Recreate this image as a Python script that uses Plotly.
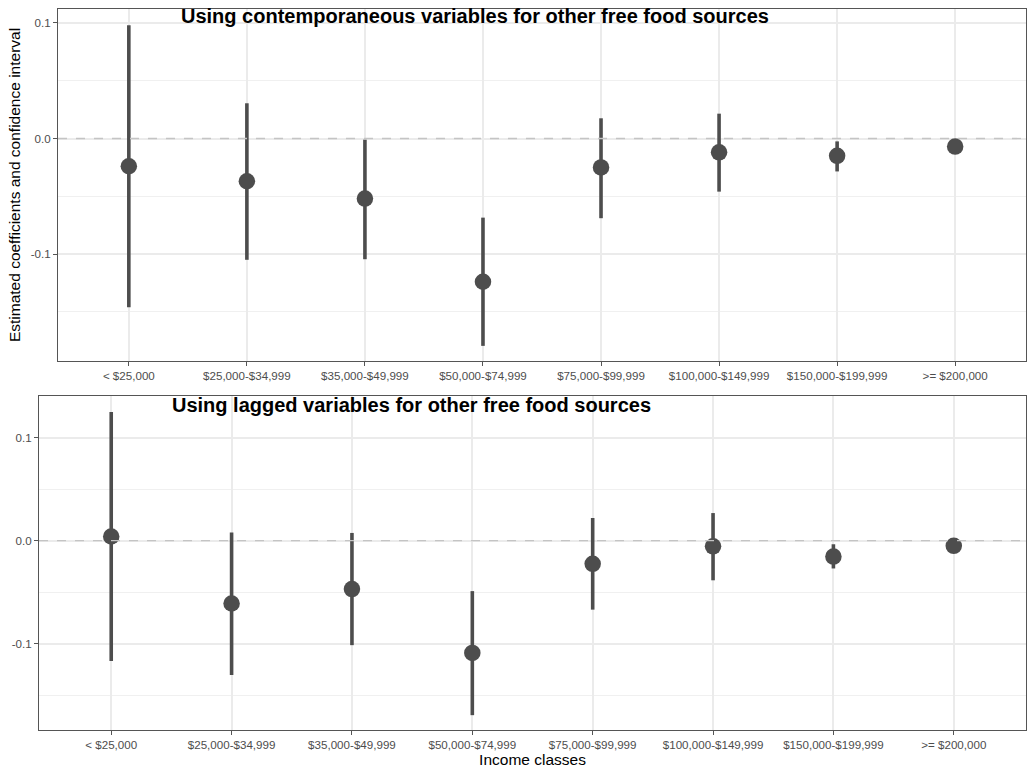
import plotly.graph_objects as go

# Income classes on the x axis
categories = ["< $25,000", "$25,000-$34,999", "$35,000-$49,999", "$50,000-$74,999",
              "$75,000-$99,999", "$100,000-$149,999", "$150,000-$199,999", ">= $200,000"]

# Contemporaneous model: estimate, lower and upper confidence bounds
contemp_est = [-0.024, -0.037, -0.052, -0.124, -0.025, -0.012, -0.015, -0.007]
contemp_lo = [-0.146, -0.105, -0.1045, -0.1795, -0.069, -0.046, -0.0285, -0.0115]
contemp_hi = [0.098, 0.0305, -0.001, -0.0685, 0.0175, 0.0215, -0.0025, -0.0025]

# Lagged model: estimate, lower and upper confidence bounds
lagged_est = [0.004, -0.061, -0.047, -0.109, -0.0225, -0.0055, -0.0155, -0.005]
lagged_lo = [-0.117, -0.1305, -0.1015, -0.1695, -0.067, -0.0385, -0.027, -0.009]
lagged_hi = [0.125, 0.008, 0.0075, -0.049, 0.022, 0.0268, -0.0035, -0.001]

y_ticks = [-0.1, 0.0, 0.1]
y_tick_text = ["-0.1", "0.0", "0.1"]

W, H = 1027, 769
DARK = "#4D4D4D"
GRID = "#EBEBEB"
FONT = "Liberation Sans, Arial, sans-serif"


def px_x(p):
    return p / W


def px_y(p):
    return 1 - p / H


fig = go.Figure()


def add_panel(est, lo, hi, xa, ya):
    plus = [h - e for h, e in zip(hi, est)]
    minus = [e - l for e, l in zip(est, lo)]
    fig.add_trace(go.Scatter(
        x=categories, y=est, mode="markers",
        marker=dict(size=16.5, color=DARK),
        error_y=dict(type="data", symmetric=False, array=plus, arrayminus=minus,
                     thickness=3.6, width=0, color=DARK),
        xaxis=xa, yaxis=ya, showlegend=False, cliponaxis=False,
    ))


add_panel(contemp_est, contemp_lo, contemp_hi, "x", "y")
add_panel(lagged_est, lagged_lo, lagged_hi, "x2", "y2")

xcommon = dict(
    type="category", categoryorder="array", categoryarray=categories,
    range=[-0.6, 7.6], showgrid=True, gridcolor=GRID, gridwidth=1.5,
    showline=True, mirror=True, linecolor="#555555", linewidth=1,
    ticks="outside", ticklen=4, tickcolor="#555555", tickwidth=1,
    tickfont=dict(family=FONT, size=11.6, color=DARK), zeroline=False,
)
ycommon = dict(
    tickvals=y_ticks, ticktext=y_tick_text, showgrid=True, gridcolor=GRID, gridwidth=1.5,
    minor=dict(dtick=0.05, tick0=0, showgrid=True, gridcolor="#F0F0F0", gridwidth=0.8),
    showline=True, mirror=True, linecolor="#555555", linewidth=1,
    ticks="outside", ticklen=4, tickcolor="#555555", tickwidth=1,
    tickfont=dict(family=FONT, size=11.6, color=DARK), zeroline=False,
)

fig.update_layout(
    width=W, height=H, margin=dict(l=0, r=0, t=0, b=0),
    paper_bgcolor="white", plot_bgcolor="white",
    font=dict(family=FONT, color="black"),
    xaxis=dict(xcommon, domain=[px_x(58), px_x(1026)], anchor="y"),
    yaxis=dict(ycommon, domain=[px_y(361), px_y(9)], anchor="x",
               range=[-0.1926, 0.1121],
               title=dict(text="Estimated coefficients and confidence interval",
                          font=dict(family=FONT, size=15.5, color="black"), standoff=6)),
    xaxis2=dict(xcommon, domain=[px_x(39), px_x(1026)], anchor="y2",
                title=dict(text="Income classes", font=dict(family=FONT, size=15.5, color="black"),
                           standoff=0)),
    yaxis2=dict(ycommon, domain=[px_y(730), px_y(396)], anchor="x2",
                range=[-0.1839, 0.1405]),
)

# Dashed reference line at zero in both panels, drawn on top of the marks
for xref, yref in [("x domain", "y"), ("x2 domain", "y2")]:
    fig.add_shape(type="line", xref=xref, yref=yref, x0=0, x1=1, y0=0, y1=0,
                  line=dict(color="#C4C4C4", width=1.3, dash="dash"), layer="above")

# Panel titles
fig.add_annotation(text="<b>Using contemporaneous variables for other free food sources</b>",
                   x=px_x(179), y=px_y(16), xref="paper", yref="paper",
                   xanchor="left", yanchor="middle", showarrow=False,
                   font=dict(family=FONT, size=20, color="black"))
fig.add_annotation(text="<b>Using lagged variables for other free food sources</b>",
                   x=px_x(170), y=px_y(405), xref="paper", yref="paper",
                   xanchor="left", yanchor="middle", showarrow=False,
                   font=dict(family=FONT, size=20, color="black"))

fig.write_html("out.html")
